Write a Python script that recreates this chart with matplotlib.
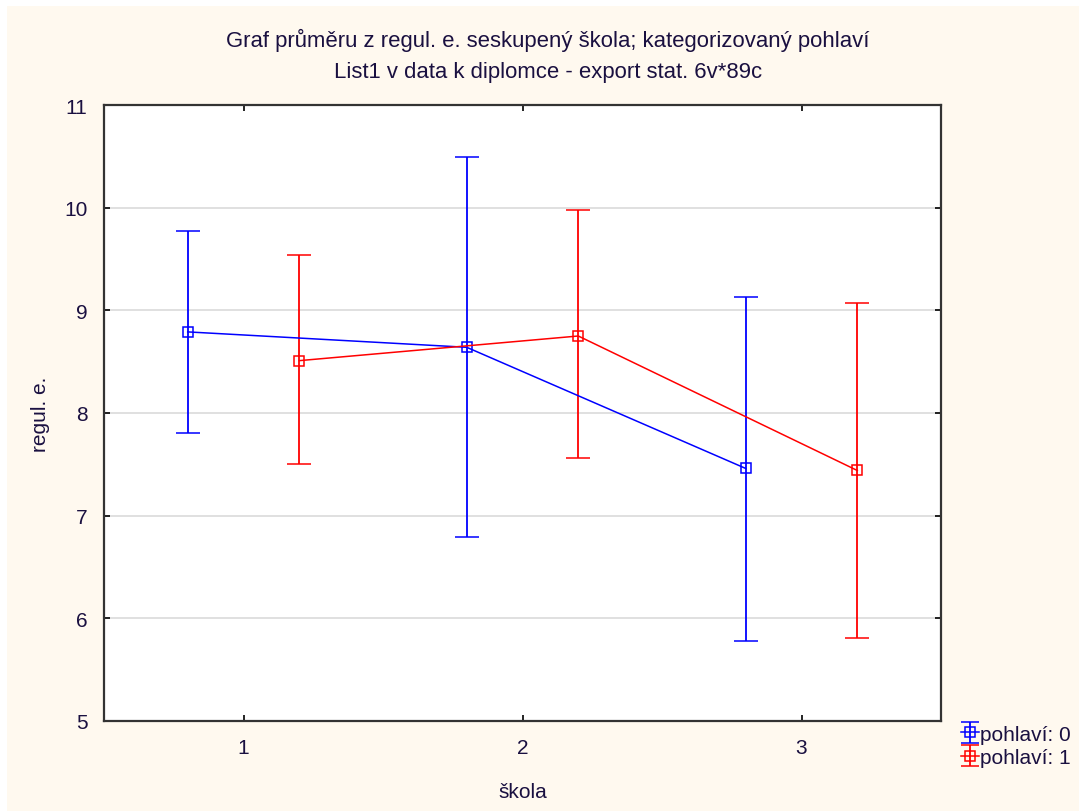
import numpy as np
import matplotlib.pyplot as plt
from matplotlib.patches import Rectangle

plt.rcParams['font.family'] = ['Liberation Sans', 'DejaVu Sans']

# school categories and group offsets
skola = [1, 2, 3]
offset = 0.2

# pohlavi 0 (blue)
mean_0 = [8.79, 8.64, 7.46]
upper_0 = [9.77, 10.49, 9.13]
lower_0 = [7.81, 6.79, 5.78]

# pohlavi 1 (red)
mean_1 = [8.51, 8.75, 7.44]
upper_1 = [9.54, 9.98, 9.07]
lower_1 = [7.50, 7.56, 5.81]

title = "Graf průměru z regul. e. seskupený škola; kategorizovaný pohlaví\nList1 v data k diplomce - export stat. 6v*89c"
TEXT_COLOR = '#1a1040'
BG = '#fff9ef'

fig = plt.figure(figsize=(10.79, 8.12), dpi=100, facecolor='white')
# cream panel with a thin white border top/left, like the screenshot
fig.patches.append(Rectangle((7 / 1079, 0), 1, 1 - 7 / 812, transform=fig.transFigure,
                             facecolor=BG, edgecolor='none', zorder=-10))

ax = fig.add_axes([104 / 1079, 90 / 812, (941 - 104) / 1079, (722 - 106) / 812])
ax.set_facecolor('white')


def draw_group(means, up, lo, shift, color, label):
    xs = [s + shift for s in skola]
    yerr = [[m - l for m, l in zip(means, lo)], [u - m for m, u in zip(means, up)]]
    ax.errorbar(xs, means, yerr=yerr, color=color, lw=1.1, elinewidth=1.3,
                capsize=8.5, capthick=1.3, marker='s', markersize=7.5,
                markerfacecolor='none', markeredgecolor=color, markeredgewidth=1.1,
                zorder=3)
    # invisible proxy with smaller caps, only for the legend
    return ax.errorbar([np.nan], [np.nan], yerr=[0.1], color=color, lw=1.1,
                       elinewidth=1.3, capsize=6.5, capthick=1.3, marker='s',
                       markersize=7.5, markerfacecolor='none', markeredgecolor=color,
                       markeredgewidth=1.1, label=label)


h0 = draw_group(mean_0, upper_0, lower_0, -offset, '#0000ff', 'pohlaví: 0')
h1 = draw_group(mean_1, upper_1, lower_1, offset, '#ff0000', 'pohlaví: 1')

ax.set_xlim(0.5, 3.5)
ax.set_ylim(5, 11)
ax.set_xticks(skola)
ax.set_yticks(range(5, 12))
ax.grid(axis='y', color='#dddddd', lw=1.3, zorder=0)
ax.tick_params(direction='in', length=4, width=1.2, top=True, right=True,
               labelsize=15, labelcolor=TEXT_COLOR, pad=12)
for sp in ax.spines.values():
    sp.set_color('#333333')
    sp.set_linewidth(1.6)

ax.set_xlabel('škola', fontsize=15, color=TEXT_COLOR, labelpad=18)
ax.set_ylabel('regul. e.', fontsize=15, color=TEXT_COLOR, labelpad=10)
fig.text(0.508, 1 - 56 / 812, title, ha='center', va='center', fontsize=15.9,
         color=TEXT_COLOR, linespacing=1.6)

leg = ax.legend(handles=[h0, h1], loc='upper left', bbox_to_anchor=(1.011, 0.011),
                frameon=False, fontsize=15, handlelength=0.9, handletextpad=0.05,
                borderpad=0, labelspacing=0.2, labelcolor=TEXT_COLOR)

fig.savefig('out.png', dpi=100, facecolor=fig.get_facecolor())
